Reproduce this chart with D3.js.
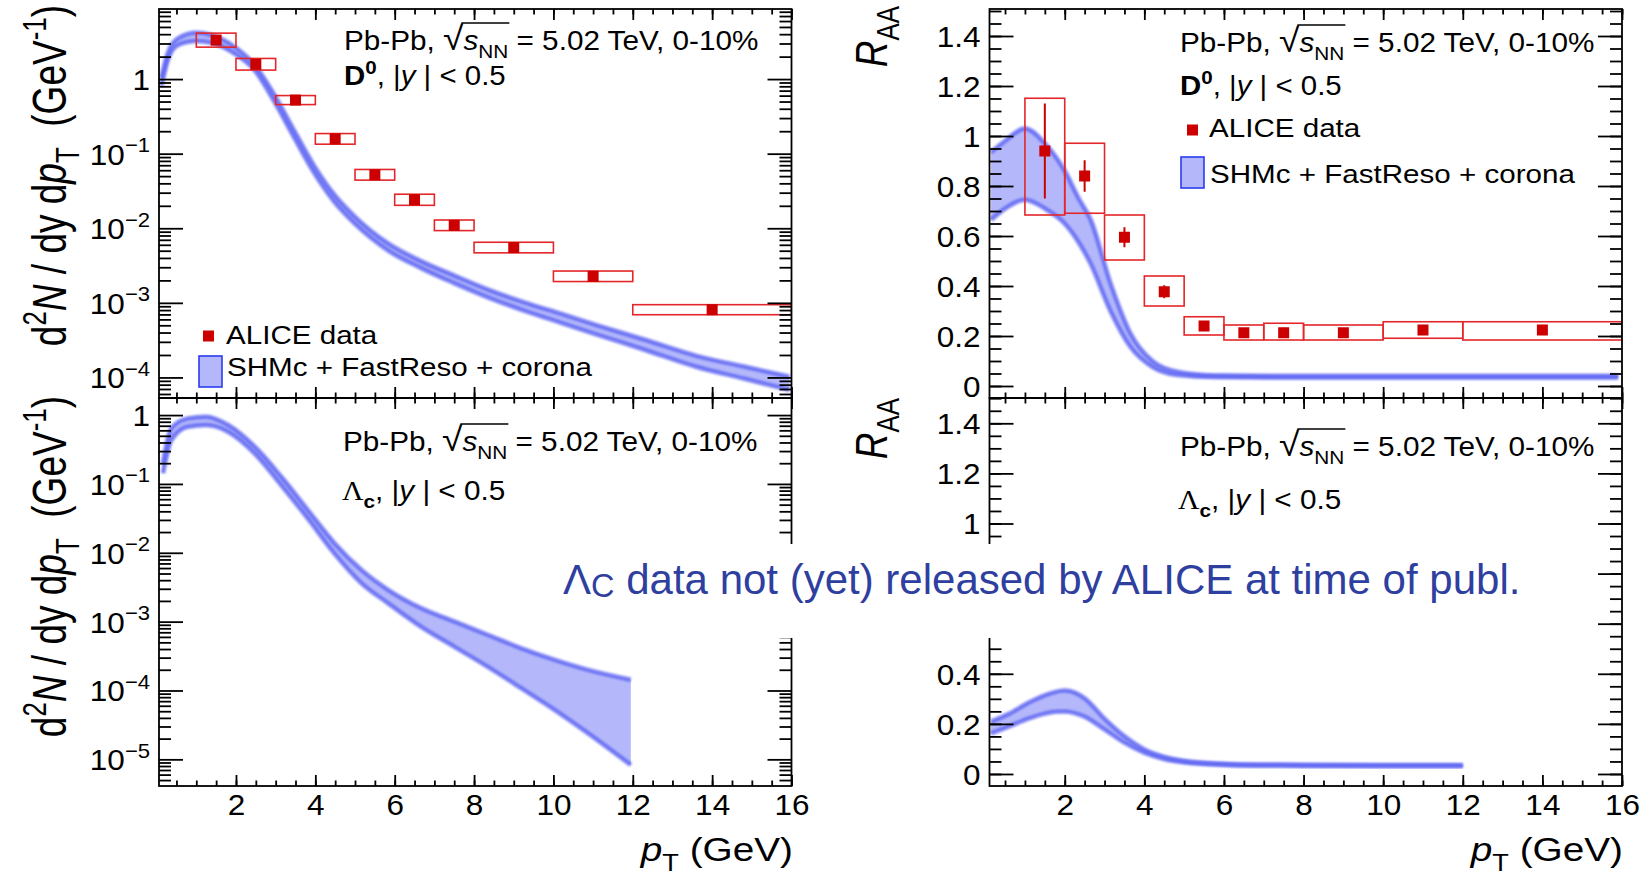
<!DOCTYPE html>
<html><head><meta charset="utf-8">
<script src="https://cdn.jsdelivr.net/npm/d3@7"></script>
<style>
body{margin:0;background:#fff}
svg{display:block}
text{white-space:pre}
</style>
</head><body>
<svg id="chart" width="1644" height="877"></svg>
<script>
// ---------------- DATA ----------------
const d0BinLo = [1, 2, 3, 4, 5, 6, 7, 8, 10, 12];
const d0BinHi = [2, 3, 4, 5, 6, 7, 8, 10, 12, 16];
const d0Pt    = [1.5, 2.5, 3.5, 4.5, 5.5, 6.5, 7.5, 9, 11, 14];

const d0Yield      = [3.33, 1.58, 0.523, 0.158, 0.0521, 0.0241, 0.01094, 0.00551, 0.00227, 0.000809];
const d0YieldSysLo = [2.68, 1.32, 0.455, 0.134, 0.0442, 0.0203, 0.0093, 0.00468, 0.00193, 0.000693];
const d0YieldSysHi = [4.13, 1.89, 0.601, 0.186, 0.0614, 0.0286, 0.0129, 0.00649, 0.00267, 0.000945];

const d0Raa      = [0.94, 0.84, 0.595, 0.377, 0.24, 0.213, 0.213, 0.213, 0.224, 0.224];
const d0RaaStat  = [0.19, 0.063, 0.04, 0.026, 0.012, 0.012, 0.02, 0.012, 0.02, 0.02];
const d0RaaSysLo = [0.684, 0.691, 0.504, 0.32, 0.204, 0.184, 0.184, 0.184, 0.191, 0.184];
const d0RaaSysHi = [1.151, 0.971, 0.684, 0.44, 0.277, 0.244, 0.251, 0.244, 0.257, 0.257];

// SHMc + FastReso + corona model bands
const modelD0YieldPt = [0.12, 0.28, 0.54, 1.0, 1.38, 1.96, 2.47, 2.97, 3.48, 3.98, 4.48, 4.99, 5.83, 6.67, 7.5, 8.4, 9.3, 10.2, 11.1, 12.3, 13.6, 14.8, 15.95];
const modelD0YieldHi = [1.03, 2.21, 3.51, 4.17, 3.89, 2.71, 1.54, 0.61, 0.197, 0.0668, 0.0279, 0.01433, 0.00625, 0.0036, 0.00232, 0.00147, 0.00100, 0.00071, 0.00050, 0.00032, 0.000195, 0.000140, 0.000102];
const modelD0YieldLo = [0.81, 1.80, 2.86, 3.23, 3.07, 2.21, 1.32, 0.497, 0.160, 0.0544, 0.0226, 0.01162, 0.00507, 0.00292, 0.00184, 0.00116, 0.000775, 0.00054, 0.000376, 0.000235, 0.000139, 0.0000966, 0.000068];

const modelLcYieldPt = [0.16, 0.37, 0.79, 1.25, 1.80, 2.47, 3.14, 3.81, 4.48, 5.16, 5.83, 6.67, 7.51, 8.35, 9.19, 10.03, 10.87, 11.95];
const modelLcYieldHi = [0.199, 0.641, 0.895, 0.945, 0.716, 0.347, 0.127, 0.0417, 0.0138, 0.00564, 0.00290, 0.00156, 0.00100, 0.00064, 0.00041, 0.000278, 0.000199, 0.000143];
const modelLcYieldLo = [0.143, 0.434, 0.677, 0.716, 0.573, 0.278, 0.0963, 0.0316, 0.0098, 0.00363, 0.00186, 0.00084, 0.00043, 0.00022, 0.000108, 0.0000523, 0.000024, 0.0000083];

const modelD0RaaPt = [0.15, 0.5, 1.0, 1.5, 2.0, 2.35, 2.65, 3.15, 3.65, 4.2, 4.85, 5.8, 8, 12, 15.9];
const modelD0RaaHi = [0.935, 0.98, 1.03, 0.97, 0.86, 0.75, 0.665, 0.41, 0.21, 0.10, 0.056, 0.042, 0.040, 0.040, 0.040];
const modelD0RaaLo = [0.665, 0.71, 0.745, 0.71, 0.65, 0.575, 0.49, 0.30, 0.157, 0.077, 0.044, 0.036, 0.034, 0.034, 0.034];

const modelLcRaaPt = [0.15, 0.6, 1.1, 1.5, 1.75, 2.0, 2.25, 2.5, 3.0, 3.5, 4.0, 4.5, 5.0, 5.5, 6.0, 7, 8, 10, 12];
const modelLcRaaHi = [0.209, 0.24, 0.285, 0.314, 0.327, 0.333, 0.325, 0.302, 0.22, 0.15, 0.098, 0.068, 0.052, 0.044, 0.040, 0.037, 0.036, 0.035, 0.035];
const modelLcRaaLo = [0.162, 0.19, 0.222, 0.241, 0.248, 0.249, 0.243, 0.229, 0.178, 0.125, 0.085, 0.060, 0.047, 0.041, 0.037, 0.034, 0.033, 0.032, 0.032];

// ticks
const xMajorTicks = [2, 4, 6, 8, 10, 12, 14, 16];
const xMinorTicks = d3.range(0.5, 16.01, 0.5);
const yieldTopDecades = [1, 0.1, 0.01, 0.001, 0.0001];
const yieldBotDecades = [1, 0.1, 0.01, 0.001, 0.0001, 0.00001];
const raaMajorTicks = [0, 0.2, 0.4, 0.6, 0.8, 1, 1.2, 1.4];
const raaMinorTicks = d3.range(-0.05, 1.51, 0.05).map(v => +v.toFixed(2));

// ---------------- SETUP ----------------
const FONT = '"Liberation Sans", Arial, Helvetica, sans-serif';
const BAND_FILL = "#b4b8fa", BAND_EDGE = "#6169f2";
const RED = "#cc0000", BOXRED = "#e4262a";
const TICKF = 30, TICKSX = 1.05;
const svg = d3.select("#chart");
svg.append("rect").attr("width", 1644).attr("height", 877).attr("fill", "#fff");
const defs = svg.append("defs");
defs.append("filter").attr("id", "soft").attr("x", "-5%").attr("y", "-5%").attr("width", "110%").attr("height", "110%")
  .append("feGaussianBlur").attr("stdDeviation", 0.8);

const xL = d3.scaleLinear().domain([0.06, 16]).range([159, 791.5]);
const xR = d3.scaleLinear().domain([0.11, 16]).range([989.5, 1622]);
const yTL = d3.scaleLog().domain([5.3e-5, 8.7]).range([398, 9]);
const yBL = d3.scaleLog().domain([4.1e-6, 1.77]).range([786, 398]);
const yTR = d3.scaleLinear().domain([-0.048, 1.508]).range([398, 9]);
const yBR = d3.scaleLinear().domain([-0.048, 1.501]).range([786, 398]);

function logMinor(scale) {
  const [a, b] = scale.domain(); const out = [];
  for (let k = Math.floor(Math.log10(a)); k <= Math.ceil(Math.log10(b)); k++)
    for (let m = 2; m <= 9; m++) { const v = m * Math.pow(10, k); if (v >= a && v <= b) out.push(v); }
  return out;
}

function rich(t, parts, base) {
  let off = 0;
  parts.forEach(p => {
    const target = p.sup ? -0.42 * base : p.sub ? 0.28 * base : 0;
    const ts = t.append("tspan").text(p.t);
    if (target - off !== 0) ts.attr("dy", target - off);
    off = target;
    if (p.sup || p.sub) ts.attr("font-size", base * 0.7);
    if (p.fs) ts.attr("font-size", base * p.fs);
    if (p.it) ts.attr("font-style", "italic");
    if (p.b) ts.attr("font-weight", "bold");
    if (p.ff) ts.attr("font-family", p.ff);
  });
  return t;
}

function hText(parent, x, y, sx, size, anchor) {
  const g = parent.append("g").attr("transform", `translate(${x},${y}) scale(${sx},1)`);
  const t = g.append("text").attr("font-family", FONT).attr("font-size", size).attr("fill", "#000")
    .attr("text-anchor", anchor || "start");
  return { g, t };
}

function styleAxis(sel) {
  sel.select(".domain").remove();
  sel.selectAll("line").attr("stroke", "#000").attr("stroke-width", 1.8);
}

function drawAxes(g, x, y, cfg) {
  const [xa, xb] = x.range(); const [yb, ya] = y.range();
  const xm = xMinorTicks.filter(v => v >= x.domain()[0] && v <= x.domain()[1]);
  g.append("g").attr("transform", `translate(0,${yb})`).call(d3.axisBottom(x).tickValues(xm).tickSize(-5.5).tickFormat("")).call(styleAxis);
  g.append("g").attr("transform", `translate(0,${ya})`).call(d3.axisTop(x).tickValues(xm).tickSize(-5.5).tickFormat("")).call(styleAxis);
  const xb_ = g.append("g").attr("transform", `translate(0,${yb})`).call(d3.axisBottom(x).tickValues(xMajorTicks).tickSize(-11).tickFormat("")).call(styleAxis);
  g.append("g").attr("transform", `translate(0,${ya})`).call(d3.axisTop(x).tickValues(xMajorTicks).tickSize(-11).tickFormat("")).call(styleAxis);
  if (cfg.xLabels) {
    xb_.selectAll(".tick").each(function (d) {
      d3.select(this).append("g").attr("transform", `translate(0,29) scale(${TICKSX},1)`)
        .append("text").attr("font-family", FONT).attr("font-size", TICKF).attr("fill", "#000")
        .attr("text-anchor", "middle").text(d3.format("d")(d));
    });
  }
  g.append("g").attr("transform", `translate(${xa},0)`).call(d3.axisLeft(y).tickValues(cfg.yMinor).tickSize(-12).tickFormat("")).call(styleAxis);
  g.append("g").attr("transform", `translate(${xb},0)`).call(d3.axisRight(y).tickValues(cfg.yMinor).tickSize(-12).tickFormat("")).call(styleAxis);
  const yl = g.append("g").attr("transform", `translate(${xa},0)`).call(d3.axisLeft(y).tickValues(cfg.yMajor).tickSize(-24).tickFormat("")).call(styleAxis);
  g.append("g").attr("transform", `translate(${xb},0)`).call(d3.axisRight(y).tickValues(cfg.yMajor).tickSize(-24).tickFormat("")).call(styleAxis);
  yl.selectAll(".tick").filter(d => !(cfg.hideLabels || []).includes(d)).each(function (d) {
    const tg = d3.select(this).append("g").attr("transform", `translate(-9,10.5) scale(${TICKSX},1)`);
    const t = tg.append("text").attr("font-family", FONT).attr("font-size", TICKF).attr("fill", "#000").attr("text-anchor", "end");
    cfg.yFmt(t, d);
  });
  g.append("rect").attr("x", xa).attr("y", ya).attr("width", xb - xa).attr("height", yb - ya)
    .attr("fill", "none").attr("stroke", "#000").attr("stroke-width", 1.8);
}

const logFmt = (t, d) => {
  const k = Math.round(Math.log10(d));
  if (k === 0) t.text("1");
  else rich(t, [{ t: "10" }, { t: "\u2212" + (-k), sup: true }], TICKF);
};
const linFmt = (t, d) => t.text(String(+d.toFixed(1)));

let clipN = 0;
function panelClip(x, y) {
  const id = "clip" + (clipN++);
  const [xa, xb] = x.range(); const [yb, ya] = y.range();
  defs.append("clipPath").attr("id", id).append("rect").attr("x", xa).attr("y", ya).attr("width", xb - xa).attr("height", yb - ya);
  return id;
}

function band(g, x, y, pt, lo, hi) {
  const idx = pt.map((_, i) => i);
  g.append("path").datum(idx)
    .attr("d", d3.area().x(i => x(pt[i])).y0(i => y(lo[i])).y1(i => y(hi[i])).curve(d3.curveMonotoneX))
    .attr("fill", BAND_FILL);
  [lo, hi].forEach(arr => {
    g.append("path").datum(idx)
      .attr("d", d3.line().x(i => x(pt[i])).y(i => y(arr[i])).curve(d3.curveMonotoneX))
      .attr("fill", "none").attr("stroke", BAND_EDGE).attr("stroke-width", 4.5).attr("stroke-opacity", 0.85)
      .attr("filter", "url(#soft)");
  });
}

function dataPoints(g, x, y, val, sysLo, sysHi, stat) {
  const idx = val.map((_, i) => i);
  g.selectAll(null).data(idx).join("rect")
    .attr("x", i => x(d0BinLo[i])).attr("width", i => x(d0BinHi[i]) - x(d0BinLo[i]))
    .attr("y", i => y(sysHi[i])).attr("height", i => y(sysLo[i]) - y(sysHi[i]))
    .attr("fill", "none").attr("stroke", BOXRED).attr("stroke-width", 1.6);
  if (stat) g.selectAll(null).data(idx).join("line")
    .attr("x1", i => x(d0Pt[i])).attr("x2", i => x(d0Pt[i]))
    .attr("y1", i => y(val[i] + stat[i])).attr("y2", i => y(val[i] - stat[i]))
    .attr("stroke", RED).attr("stroke-width", 2);
  g.selectAll(null).data(idx).join("rect")
    .attr("x", i => x(d0Pt[i]) - 5.5).attr("y", i => y(val[i]) - 5.5)
    .attr("width", 11).attr("height", 11).attr("fill", RED);
}

// ---------------- PANELS ----------------
const gTL = svg.append("g"), gTR = svg.append("g"), gBL = svg.append("g"), gBR = svg.append("g");
{
  const c = gTL.append("g").attr("clip-path", `url(#${panelClip(xL, yTL)})`);
  band(c, xL, yTL, modelD0YieldPt, modelD0YieldLo, modelD0YieldHi);
  dataPoints(c, xL, yTL, d0Yield, d0YieldSysLo, d0YieldSysHi, null);
  drawAxes(gTL, xL, yTL, { yMajor: yieldTopDecades, yMinor: logMinor(yTL), yFmt: logFmt, xLabels: false });
}
{
  const c = gBL.append("g").attr("clip-path", `url(#${panelClip(xL, yBL)})`);
  band(c, xL, yBL, modelLcYieldPt, modelLcYieldLo, modelLcYieldHi);
  drawAxes(gBL, xL, yBL, { yMajor: yieldBotDecades, yMinor: logMinor(yBL), yFmt: logFmt, xLabels: true });
}
{
  const c = gTR.append("g").attr("clip-path", `url(#${panelClip(xR, yTR)})`);
  band(c, xR, yTR, modelD0RaaPt, modelD0RaaLo, modelD0RaaHi);
  dataPoints(c, xR, yTR, d0Raa, d0RaaSysLo, d0RaaSysHi, d0RaaStat);
  drawAxes(gTR, xR, yTR, { yMajor: raaMajorTicks, yMinor: raaMinorTicks.filter(v => v >= -0.048 && v <= 1.508), yFmt: linFmt, xLabels: false });
}
{
  const c = gBR.append("g").attr("clip-path", `url(#${panelClip(xR, yBR)})`);
  band(c, xR, yBR, modelLcRaaPt, modelLcRaaLo, modelLcRaaHi);
  drawAxes(gBR, xR, yBR, { yMajor: raaMajorTicks, yMinor: raaMinorTicks.filter(v => v >= -0.048 && v <= 1.501), yFmt: linFmt, xLabels: true, hideLabels: [0.6, 0.8] });
}

// ---------------- TEXTS ----------------
function collisionLine(parent, x, y) {
  const F = 27;
  const { g, t } = hText(parent, x, y, 1.1, F);
  rich(t, [{ t: "Pb-Pb, " }, { t: "\u221A", fs: 1.25 }, { t: "s", it: true }, { t: "NN", sub: true }, { t: " = 5.02 TeV, 0-10%" }], F);
  const n = t.node();
  const e1 = n.getExtentOfChar(7), e2 = n.getExtentOfChar(10);
  g.append("line").attr("x1", e1.x + e1.width * 0.9).attr("x2", e2.x + e2.width + 1)
    .attr("y1", -F * 1.0).attr("y2", -F * 1.0).attr("stroke", "#000").attr("stroke-width", 1.6);
}
function d0Line(parent, x, y) {
  const F = 27;
  const { t } = hText(parent, x, y, 1.09, F);
  rich(t, [{ t: "D", b: true }, { t: "0", sup: true, b: true }, { t: ", |" }, { t: "y", it: true }, { t: " | < 0.5" }], F);
}
function lcLine(parent, x, y) {
  const F = 27;
  const { t } = hText(parent, x, y, 1.1, F);
  rich(t, [{ t: "\u039B", ff: '"Liberation Serif", serif' }, { t: "c", sub: true, b: true }, { t: ", |" }, { t: "y", it: true }, { t: " | < 0.5" }], F);
}
function legend(parent, mx, my, bx, by, tx, ty1, ty2) {
  parent.append("rect").attr("x", mx - 5.5).attr("y", my - 5.5).attr("width", 11).attr("height", 11).attr("fill", RED);
  hText(parent, tx, ty1, 1.16, 25.5).t.text("ALICE data");
  parent.append("rect").attr("x", bx).attr("y", by).attr("width", 23).attr("height", 31)
    .attr("fill", BAND_FILL).attr("stroke", "#2b3cf0").attr("stroke-width", 1.6);
  hText(parent, tx + 1, ty2, 1.16, 25.5).t.text("SHMc + FastReso + corona");
}

collisionLine(svg, 344, 50);
d0Line(svg, 344, 85);
legend(svg, 208.5, 336, 199, 356, 226, 344, 376);

collisionLine(svg, 1180, 52);
d0Line(svg, 1180, 95);
legend(svg, 1192.5, 130, 1181, 157, 1209, 137, 183);

collisionLine(svg, 343, 451);
lcLine(svg, 342, 500);
collisionLine(svg, 1180, 456);
lcLine(svg, 1178, 509);

function yTitle(x, yEnd) {
  const F = 37;
  const g = svg.append("g").attr("transform", `translate(${x},${yEnd}) rotate(-90) scale(1,1.3)`);
  const t = g.append("text").attr("font-family", FONT).attr("font-size", F).attr("fill", "#000").attr("text-anchor", "end");
  rich(t, [{ t: "d" }, { t: "2", sup: true }, { t: "N", it: true }, { t: " / dy d" }, { t: "p", it: true }, { t: "T", sub: true }, { t: "  (GeV" }, { t: "-1", sup: true }, { t: ")" }], F);
}
function raaTitle(x, yEnd) {
  const F = 37;
  const g = svg.append("g").attr("transform", `translate(${x},${yEnd}) rotate(-90) scale(1,1.2)`);
  const t = g.append("text").attr("font-family", FONT).attr("font-size", F).attr("fill", "#000").attr("text-anchor", "end");
  rich(t, [{ t: "R", it: true }, { t: "AA", sub: true }], F);
}
function xTitle(xEnd, y) {
  const F = 34;
  const { t } = hText(svg, xEnd, y, 1.14, F, "end");
  rich(t, [{ t: "p", it: true }, { t: "T", sub: true }, { t: " (GeV)" }], F);
}
yTitle(66, 5);
yTitle(66, 396);
raaTitle(887, 6);
raaTitle(887, 398);
xTitle(793, 861);
xTitle(1623, 861);

// annotation covering the gap
svg.append("rect").attr("x", 553).attr("y", 544).attr("width", 982).attr("height", 94).attr("fill", "#fff");
{
  const t = svg.append("text").attr("x", 563).attr("y", 594).attr("font-family", FONT).attr("font-size", 42).attr("fill", "#2f3fa0");
  t.append("tspan").text("\u039B");
  t.append("tspan").attr("font-size", 32.5).attr("dy", 3).text("C");
  t.append("tspan").attr("dy", -3).text(" data not (yet) released by ALICE at time of publ.");
}
</script>
</body></html>
